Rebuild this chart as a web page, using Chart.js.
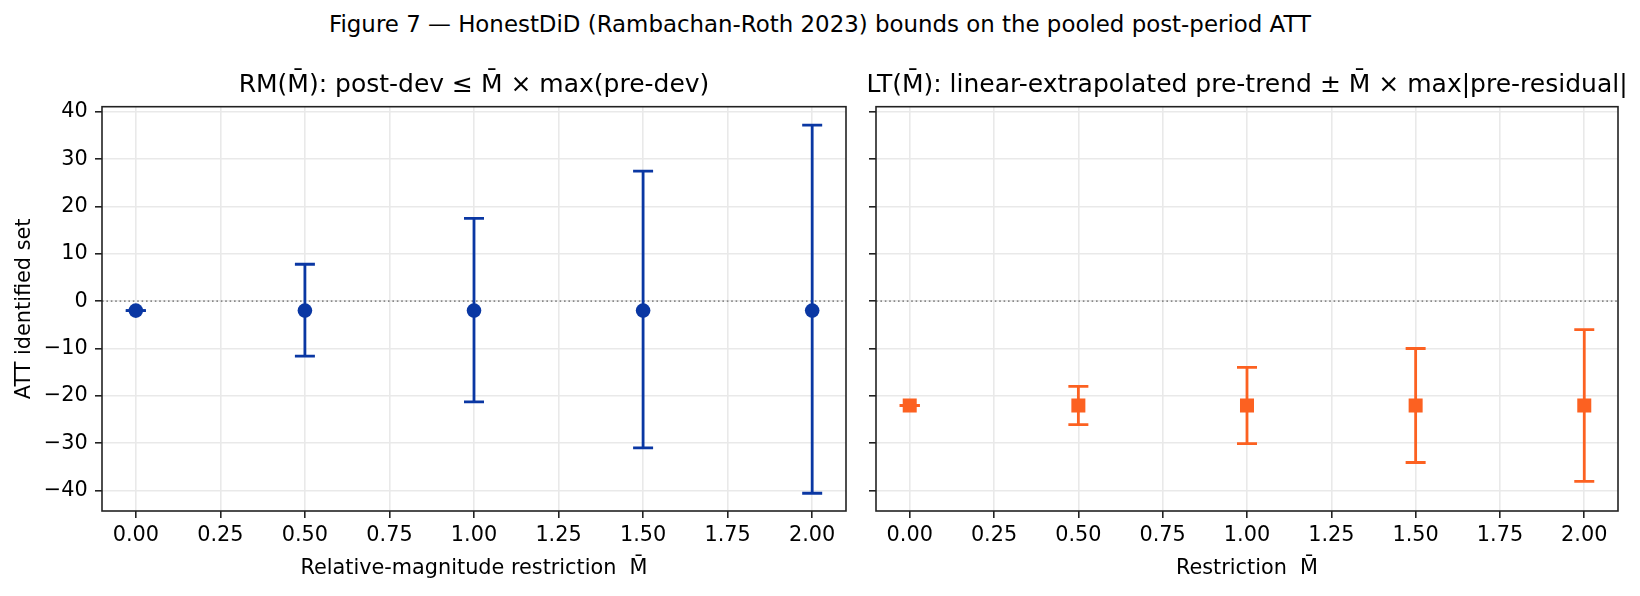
<!DOCTYPE html>
<html>
<head>
<meta charset="utf-8">
<title>Figure 7 - HonestDiD bounds</title>
<script src="https://cdn.jsdelivr.net/npm/chart.js@4.4.1/dist/chart.umd.min.js"></script>
<style>
  html, body { margin: 0; padding: 0; background: #fff; }
  #wrap { position: relative; width: 1640px; height: 596px; overflow: hidden; }
  #suptitle { position: absolute; left: 0; top: 9px; width: 1640px; text-align: center;
              font-family: "DejaVu Sans"; font-size: 22.9px; line-height: 30px; color: #000; }
  canvas { position: absolute; top: 0; }
</style>
</head>
<body>
<div id="wrap">
  <div id="suptitle">Figure 7 — HonestDiD (Rambachan-Roth 2023) bounds on the pooled post-period ATT</div>
  <canvas id="rm" width="948" height="596" style="left:0px"></canvas>
  <canvas id="lt" width="786" height="596" style="left:854px"></canvas>
</div>
<script>
// restriction values (M-bar) on the x axis
const mbar = [0, 0.5, 1.0, 1.5, 2.0];

// relative-magnitude bounds
const rmCenter = [-2.0, -2.0, -2.0, -2.0, -2.0];
const rmLower  = [-2.0, -11.6, -21.3, -31.0, -40.6];
const rmUpper  = [-2.0, 7.8, 17.5, 27.5, 37.2];

// linear-trend bounds
const ltCenter = [-22.05, -22.05, -22.05, -22.05, -22.05];
const ltLower  = [-22.05, -26.1, -30.1, -34.1, -38.1];
const ltUpper  = [-22.05, -18.0, -14.0, -10.0, -6.0];

const xTicks = [0, 0.25, 0.5, 0.75, 1.0, 1.25, 1.5, 1.75, 2.0];
const yTicks = [-40, -30, -20, -10, 0, 10, 20, 30, 40];
const xLim = [-0.1, 2.1];
const yLim = [-44.35, 41.1];

const FONT = 'DejaVu Sans';
Chart.defaults.color = '#000';
Chart.defaults.font.family = FONT;

const frame = {
  id: 'frame',
  afterDraw(chart) {
    const a = chart.chartArea, ctx = chart.ctx;
    ctx.save();
    ctx.strokeStyle = '#222';
    ctx.lineWidth = 1.6;
    ctx.strokeRect(a.left, a.top, a.right - a.left, a.bottom - a.top);
    ctx.restore();
  }
};

function makeChart(id, o) {
  const datasets = [];
  // dotted zero reference
  datasets.push({
    data: [{x: xLim[0], y: 0}, {x: xLim[1], y: 0}],
    showLine: true, borderColor: '#8a8a8a', borderWidth: 1.6, borderDash: [1.6, 2.8],
    pointRadius: 0, order: 3, yAxisID: 'y'
  });
  // one vertical bar with caps per M-bar
  mbar.forEach((m, i) => {
    datasets.push({
      data: [{x: m, y: o.lower[i]}, {x: m, y: o.upper[i]}],
      showLine: true, borderColor: o.color, borderWidth: 2.8,
      pointStyle: 'line', pointRadius: 10, pointBorderWidth: 2.8,
      pointBorderColor: o.color, pointBackgroundColor: o.color,
      order: 2, yAxisID: 'y'
    });
  });
  datasets.push({
    data: mbar.map((m, i) => ({x: m, y: o.center[i]})),
    showLine: false, pointStyle: o.marker, pointRadius: o.markerR,
    pointBackgroundColor: o.color, pointBorderWidth: 0, order: 1, yAxisID: 'y'
  });

  const grid = { color: '#e9e9e9', lineWidth: 1.6, tickColor: '#222', tickWidth: 1.6, tickLength: 7 };

  return new Chart(document.getElementById(id), {
    type: 'scatter',
    data: { datasets: datasets },
    options: {
      responsive: false,
      animation: false,
      events: [],
      layout: { padding: 0 },
      plugins: {
        legend: { display: false },
        tooltip: { enabled: false },
        title: {
          display: true, text: o.title, color: '#000',
          font: { family: FONT, size: 25, weight: 'normal' },
          padding: { top: 70.4, bottom: 6.3 }
        }
      },
      scales: {
        x: {
          type: 'linear', min: xLim[0], max: xLim[1],
          afterBuildTicks: s => { s.ticks = xTicks.map(v => ({value: v})); },
          afterFit: s => { s.height = 85; },
          ticks: { callback: v => v.toFixed(2), font: { size: 20.8 }, padding: 5.3, maxRotation: 0, autoSkip: false },
          grid: grid,
          border: { display: false },
          title: { display: true, text: o.xTitle, font: { size: 20.8 }, padding: { top: 0, bottom: 14.7 } }
        },
        y: {
          type: 'linear', position: 'left', min: yLim[0], max: yLim[1],
          afterBuildTicks: s => { s.ticks = yTicks.map(v => ({value: v})); },
          afterFit: s => { s.width = o.side; },
          ticks: { display: o.showY, callback: v => String(v).replace('-', '\u2212'), font: { size: 20.8 }, padding: 7.3 },
          grid: grid,
          border: { display: false },
          title: { display: o.showY, text: 'ATT identified set', font: { size: 20.8 }, padding: { top: 12.3, bottom: 0 } }
        },
        // empty right-hand band so the panel title centres over the plot area
        yR: {
          type: 'linear', position: 'right',
          afterFit: s => { s.width = o.side; },
          ticks: { display: false },
          grid: { display: false, drawTicks: false },
          border: { display: false }
        }
      }
    },
    plugins: [frame]
  });
}

makeChart('rm', {
  title: 'RM(M\u0304): post-dev \u2264 M\u0304 \u00d7 max(pre-dev)',
  xTitle: 'Relative-magnitude restriction  M\u0304',
  center: rmCenter, lower: rmLower, upper: rmUpper,
  color: '#0a37a3', marker: 'circle', markerR: 7.3,
  showY: true, side: 102
});

makeChart('lt', {
  title: 'LT(M\u0304): linear-extrapolated pre-trend \u00b1 M\u0304 \u00d7 max|pre-residual|',
  xTitle: 'Restriction  M\u0304',
  center: ltCenter, lower: ltLower, upper: ltUpper,
  color: '#fc6121', marker: 'rect', markerR: 9.9,
  showY: false, side: 22
});
</script>
</body>
</html>
